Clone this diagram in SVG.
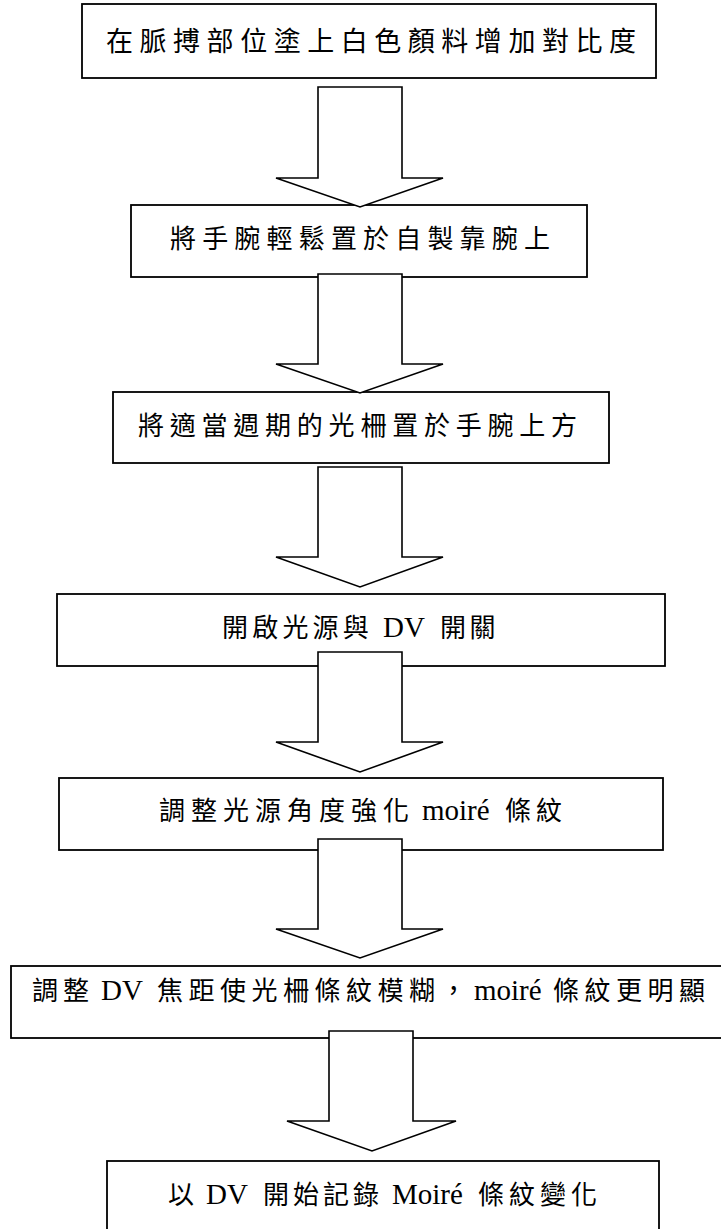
<svg xmlns="http://www.w3.org/2000/svg" width="721" height="1229" viewBox="0 0 721 1229">
<style>
.box{fill:#fff;stroke:#000;stroke-width:1.8}
.arr{fill:#fff;stroke:#000;stroke-width:1.6;stroke-linejoin:miter}
.t{font-family:"Liberation Serif","Noto Sans CJK TC",serif;font-size:26px;fill:#000}
.lat{font-family:"Liberation Serif",serif;font-size:29px;letter-spacing:0}
</style>
<rect width="721" height="1229" fill="#fff"/>
<g id="n1"><rect class="box" x="82" y="4" width="574" height="74"/>
<text class="t" x="106" y="51" style="font-size:27px" textLength="530" lengthAdjust="spacing">在脈搏部位塗上白色顏料增加對比度</text></g>
<g id="n2"><rect class="box" x="131" y="205" width="456" height="72"/>
<text class="t" x="170" y="248" textLength="380" lengthAdjust="spacing">將手腕輕鬆置於自製靠腕上</text></g>
<g id="n3"><rect class="box" x="113" y="392" width="496" height="71"/>
<text class="t" x="138" y="434.5" textLength="439" lengthAdjust="spacing">將適當週期的光柵置於手腕上方</text></g>
<g id="n4"><rect class="box" x="57" y="594" width="608" height="72"/>
<text class="t" y="636.5"><tspan x="222" style="letter-spacing:4.2px">開啟光源與</tspan><tspan class="lat" x="383">DV</tspan><tspan x="440" style="letter-spacing:3.5px">開關</tspan></text></g>
<g id="n5"><rect class="box" x="59" y="778" width="604" height="72"/>
<text class="t" y="819.5"><tspan x="159" style="letter-spacing:6px">調整光源角度強化</tspan><tspan class="lat" x="422">moiré</tspan><tspan x="505" style="letter-spacing:5px">條紋</tspan></text></g>
<g id="n6"><rect class="box" x="11" y="966" width="712" height="72"/>
<text class="t" y="999.5"><tspan x="32" style="letter-spacing:5px">調整</tspan><tspan class="lat" x="101">DV</tspan><tspan x="157" style="letter-spacing:5.5px">焦距使光柵條紋模糊，</tspan><tspan class="lat" x="474">moiré</tspan><tspan x="553" style="letter-spacing:5.5px">條紋更明顯</tspan></text></g>
<g id="n7"><rect class="box" x="107" y="1161" width="552" height="75"/>
<text class="t" y="1204"><tspan x="168">以</tspan><tspan class="lat" x="206">DV</tspan><tspan x="263" style="letter-spacing:4px">開始記錄</tspan><tspan class="lat" x="392">Moiré</tspan><tspan x="478" style="letter-spacing:5px">條紋變化</tspan></text></g>
<g id="connectors">
<polygon class="arr" points="318,87 402,87 402,178 443,178 360,207 276,178 318,178"/>
<polygon class="arr" points="318,274 402,274 402,364 443,364 360,393 276,364 318,364"/>
<polygon class="arr" points="318,467 402,467 402,557 443,557 360,587 276,557 318,557"/>
<polygon class="arr" points="318,652 402,652 402,742 443,742 360,772 276,742 318,742"/>
<polygon class="arr" points="318,839 402,839 402,929 443,929 360,958 276,929 318,929"/>
<polygon class="arr" points="329,1031 413,1031 413,1121 456,1121 372,1151 287,1121 329,1121"/>
</g>
</svg>
